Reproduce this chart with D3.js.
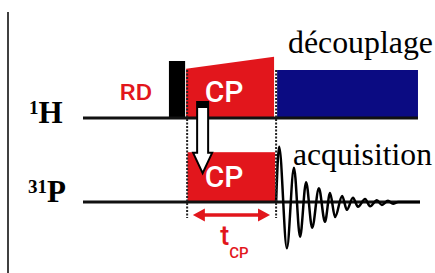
<!DOCTYPE html>
<meta charset="utf-8">
<script src="https://d3js.org/d3.v7.min.js"></script>
<style>
  body { margin: 0; background: #fff; }
</style>
<div id="my_dataviz"></div>
<script>
// channels and events (time in arbitrary units 0-100, amplitude in % of pulse height)
var channels = ["1H", "31P"];
var channelSup = ["1", "31"];
var channelName = ["H", "P"];

var blackPulse = { start: 25.5, end: 30.3, amp: 95 };
var cpH = { start: 30.6, end: 56.7, ampStart: 82, ampEnd: 102 };
var decoupling = { start: 57.6, end: 99.4, amp: 80 };
var cpP = { start: 31.0, end: 57.0, amp: 83 };
var contactMarks = [30.9, 57.3];
var tcpSpan = [32.6, 55.5];
var transferAt = 35.5;
var rdAt = 15.7;

// FID peaks
var fidTime = [57.3, 58.2, 60.5, 62.6, 64.4, 66.2, 68.0, 70.0, 71.8, 73.3, 74.8, 76.9,
               78.3, 80.1, 81.6, 83.7, 85.2, 87.2, 88.7, 90.5, 92.0, 93.5, 100];
var fidAmp  = [0, 92, -77, 57, -58, 33, -43, 23, -33, 15, -25, 10,
               -13, 7, -8, 5, -7, 3, -5, 2, -3, 0, 0];

var red = "#e2161c", navy = "#0b0b82";
var W = 435, H = 273;

var svg = d3.select("#my_dataviz").append("svg")
  .attr("width", W).attr("height", H);

var x = d3.scaleLinear().domain([0, 100]).range([83, 420]);
var base = d3.scalePoint().domain(channels).range([118, 202]);
var amp = d3.scaleLinear().domain([0, 100]).range([0, 60]);
function y(ch, a) { return base(ch) - amp(a); }

// frame line at left
svg.append("line")
  .attr("x1", 8).attr("x2", 8).attr("y1", 12).attr("y2", H)
  .attr("stroke", "#000").attr("stroke-width", 1.5);

// red CP blocks
svg.append("path")
  .attr("d", d3.line()([
    [x(cpH.start), y("1H", 0)], [x(cpH.start), y("1H", cpH.ampStart)],
    [x(cpH.end), y("1H", cpH.ampEnd)], [x(cpH.end), y("1H", 0)]]) + "Z")
  .attr("fill", red);

svg.append("rect")
  .attr("x", x(cpP.start)).attr("y", y("31P", cpP.amp))
  .attr("width", x(cpP.end) - x(cpP.start)).attr("height", amp(cpP.amp))
  .attr("fill", red);

// decoupling block
svg.append("rect")
  .attr("x", x(decoupling.start)).attr("y", y("1H", decoupling.amp))
  .attr("width", x(decoupling.end) - x(decoupling.start)).attr("height", amp(decoupling.amp))
  .attr("fill", navy);

// black 90 pulse
svg.append("rect")
  .attr("x", x(blackPulse.start)).attr("y", y("1H", blackPulse.amp))
  .attr("width", x(blackPulse.end) - x(blackPulse.start)).attr("height", amp(blackPulse.amp))
  .attr("fill", "#000");

// channel baselines
svg.selectAll(".base").data(channels).enter().append("line")
  .attr("x1", x(0)).attr("x2", function (d) { return d == "1H" ? x(decoupling.end) : x(100); })
  .attr("y1", function (d) { return base(d); }).attr("y2", function (d) { return base(d); })
  .attr("stroke", "#111").attr("stroke-width", 3);

// FID
var fid = fidTime.map(function (t, i) { return [x(t), y("31P", fidAmp[i])]; });
svg.append("path")
  .attr("d", d3.line().curve(d3.curveMonotoneX)(fid))
  .attr("fill", "none").attr("stroke", "#000").attr("stroke-width", 2.5);

// dotted contact-time marks
svg.selectAll(".mark").data(contactMarks).enter().append("line")
  .attr("x1", function (d) { return x(d); }).attr("x2", function (d) { return x(d); })
  .attr("y1", y("1H", decoupling.amp)).attr("y2", base("31P") + 16)
  .attr("stroke", "#222").attr("stroke-width", 2)
  .attr("stroke-dasharray", "2,1.5");

// hollow transfer arrow
var ax = x(transferAt), arrTop = base("1H") - 16, neck = y("31P", 82), tip = y("31P", 48);
svg.append("path")
  .attr("d", d3.line()([
    [ax - 5.5, arrTop], [ax + 5.5, arrTop], [ax + 5.5, neck], [ax + 9.5, neck], [ax, tip],
    [ax - 9.5, neck], [ax - 5.5, neck]]) + "Z")
  .attr("fill", "#fff").attr("stroke", "#000").attr("stroke-width", 2);
svg.append("rect")
  .attr("x", ax - 5.5).attr("y", arrTop).attr("width", 11).attr("height", 6)
  .attr("fill", "#000");

// t_CP double arrow
var ty = base("31P") + 13, x0 = x(tcpSpan[0]), x1 = x(tcpSpan[1]);
svg.append("line")
  .attr("x1", x0 + 8).attr("x2", x1 - 8).attr("y1", ty).attr("y2", ty)
  .attr("stroke", red).attr("stroke-width", 3.5);
svg.append("path")
  .attr("d", d3.line()([[x0, ty], [x0 + 12, ty - 6.5], [x0 + 12, ty + 6.5]]) + "Z" +
             d3.line()([[x1, ty], [x1 - 12, ty - 6.5], [x1 - 12, ty + 6.5]]) + "Z")
  .attr("fill", red);

var tl = svg.append("text")
  .attr("x", x(40.7)).attr("y", 245)
  .attr("fill", red).attr("font-family", "Roboto").attr("font-weight", 500)
  .attr("font-size", 27);
tl.append("tspan").text("t");
tl.append("tspan").attr("dy", 13).attr("font-size", 15).text("CP");

// sans labels in blocks
svg.append("text")
  .attr("x", x(rdAt)).attr("y", 100).attr("text-anchor", "middle")
  .attr("fill", red).attr("font-family", "Roboto").attr("font-weight", 500)
  .attr("font-size", 22).attr("textLength", 33).attr("lengthAdjust", "spacingAndGlyphs")
  .text("RD");

svg.selectAll(".cp").data([["1H", 102], ["31P", 187]]).enter().append("text")
  .attr("x", x((cpH.start + cpH.end) / 2) - 6).attr("y", function (d) { return d[1]; })
  .attr("text-anchor", "middle")
  .attr("fill", "#fff").attr("font-family", "Roboto").attr("font-weight", 500)
  .attr("font-size", 30).text("CP");

// channel labels
svg.selectAll(".chan").data(channels).enter().append("text")
  .attr("x", function (d, i) { return i == 0 ? 29 : 28; })
  .attr("y", function (d) { return d == "1H" ? base(d) + 5 : base(d); })
  .attr("font-family", "Liberation Serif").attr("font-weight", "bold")
  .each(function (d, i) {
    var t = d3.select(this);
    t.append("tspan").attr("font-size", 19).attr("dy", -9).text(channelSup[i]);
    t.append("tspan").attr("font-size", 31).attr("dy", 9).text(channelName[i]);
  });

// serif annotations
svg.append("text")
  .attr("x", 288).attr("y", 53)
  .attr("font-family", "Liberation Serif").attr("font-size", 31)
  .attr("textLength", 145).attr("lengthAdjust", "spacingAndGlyphs")
  .text("découplage");
svg.append("text")
  .attr("x", 293).attr("y", 165)
  .attr("font-family", "Liberation Serif").attr("font-size", 31)
  .attr("textLength", 139).attr("lengthAdjust", "spacingAndGlyphs")
  .text("acquisition");
</script>
